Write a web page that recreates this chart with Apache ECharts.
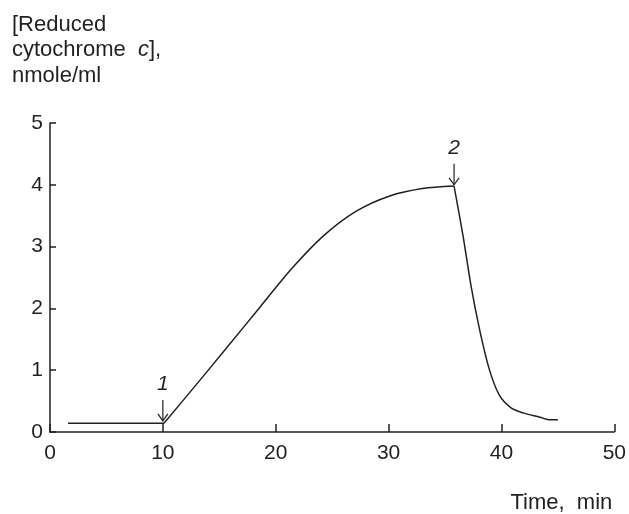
<!DOCTYPE html>
<html>
<head>
<meta charset="utf-8">
<script src="https://cdn.jsdelivr.net/npm/echarts@6/dist/echarts.min.js"></script>
<style>html,body{margin:0;padding:0;background:#fff}#c{width:629px;height:514px}</style>
</head>
<body>
<div id="c"></div>
<script>
// ---- data ----
var xTicks = [0, 10, 20, 30, 40, 50];
var yTicks = [0, 1, 2, 3, 4, 5];
var baseline = [[1.6, 0.14], [10.1, 0.14]];
var rise = [[10.1, 0.14], [12.7, 0.71], [15.6, 1.35], [18.6, 2.02], [21.5, 2.66], [24.2, 3.17], [27.1, 3.57], [30.1, 3.82], [33.0, 3.94], [35.8, 3.98]];
var decay = [[35.8, 3.98], [36.6, 3.17], [37.3, 2.37], [38.05, 1.67], [38.9, 1.03], [39.8, 0.60], [40.85, 0.39], [41.9, 0.31], [43.4, 0.24], [44.2, 0.20], [45.0, 0.20]];
var arrows = [[10, 0.18, '1'], [35.8, 4.0, '2']];

var INK = '#231f20';
var FONT = 'Liberation Sans, Arial, sans-serif';
var FS = 21;
var TFS = 22;
var chart = echarts.init(document.getElementById('c'), null, {renderer: 'canvas'});

chart.setOption({
  backgroundColor: '#fff',
  animation: false,
  title: {
    left: 7, top: 7,
    text: '{a|[Reduced}\n{a|cytochrome  }{i|c}{a|],}\n{a|nmole/ml}',
    textStyle: {
      fontWeight: 'normal',
      rich: {
        a: {fontFamily: FONT, fontSize: TFS, fontWeight: 'normal', color: INK, lineHeight: 25.5},
        i: {fontFamily: FONT, fontSize: TFS, fontWeight: 'normal', color: INK, lineHeight: 25.5, fontStyle: 'italic'}
      }
    }
  },
  grid: {left: 50, right: 14, top: 123, bottom: 80, containLabel: false},
  xAxis: {
    type: 'value', min: xTicks[0], max: xTicks[xTicks.length - 1], interval: 10,
    name: 'Time,  min', nameLocation: 'end', nameGap: -2,
    nameTextStyle: {fontFamily: FONT, fontSize: TFS, color: INK, align: 'right', verticalAlign: 'top', padding: [60, 0, 0, 0]},
    axisLine: {show: true, lineStyle: {color: INK, width: 1.5}},
    axisTick: {show: true, inside: true, length: 8, lineStyle: {color: INK, width: 1.5}},
    axisLabel: {fontFamily: FONT, fontSize: FS, color: INK, margin: 11},
    splitLine: {show: false}
  },
  yAxis: {
    type: 'value', min: yTicks[0], max: yTicks[yTicks.length - 1], interval: 1,
    axisLine: {show: true, lineStyle: {color: INK, width: 1.5}},
    axisTick: {show: true, inside: true, length: 6, lineStyle: {color: INK, width: 1.5}},
    axisLabel: {fontFamily: FONT, fontSize: FS, color: INK, margin: 7},
    splitLine: {show: false}
  },
  series: [
    {type: 'line', data: baseline, showSymbol: false, lineStyle: {color: INK, width: 1.5}},
    {type: 'line', data: rise, smooth: 0.3, showSymbol: false, lineStyle: {color: INK, width: 1.5}},
    {type: 'line', data: decay, smooth: 0.3, showSymbol: false, lineStyle: {color: INK, width: 1.5}},
    {
      type: 'custom', data: arrows,
      renderItem: function (params, api) {
        var p = api.coord([api.value(0), api.value(1)]);
        var x = p[0], y = p[1];
        return {
          type: 'group',
          children: [
            {type: 'line', shape: {x1: x, y1: y - 21, x2: x, y2: y}, style: {stroke: INK, lineWidth: 1.2}},
            {type: 'polyline', shape: {points: [[x - 5, y - 7], [x, y], [x + 5, y - 7]]}, style: {stroke: INK, lineWidth: 1.2, fill: null}},
            {type: 'text', x: x, y: y - 37, style: {text: arrows[params.dataIndex][2], fontFamily: FONT, fontSize: FS, fontStyle: 'italic', fill: INK, align: 'center', verticalAlign: 'middle'}}
          ]
        };
      }
    }
  ]
});
</script>
</body>
</html>
